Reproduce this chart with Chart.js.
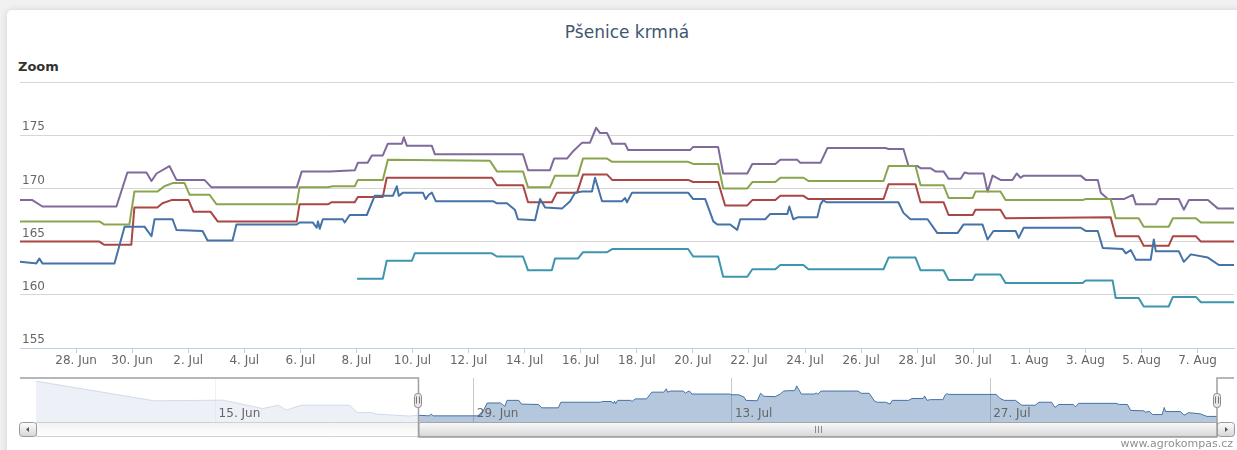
<!DOCTYPE html>
<html lang="cs">
<head>
<meta charset="utf-8">
<title>Pšenice krmná</title>
<script src="https://cdn.jsdelivr.net/npm/chart.js@4/dist/chart.umd.min.js"></script>
<style>
  html, body { margin: 0; padding: 0; }
  body {
    width: 1237px;
    height: 450px;
    overflow: hidden;
    background: #f1f1f1;
    font-family: "DejaVu Sans", sans-serif;
  }
  #card {
    position: absolute;
    left: 7px;
    top: 10px;
    width: 1240px;
    height: 470px;
    background: #fff;
    border-radius: 5px;
    box-shadow: 0 0 7px rgba(0, 0, 0, 0.13);
  }
  #mainChart, #navChart { position: absolute; left: 0; }
  #mainChart { top: 0; }
  #navChart { top: 362px; }
  .chart-title {
    position: absolute;
    left: 0;
    width: 1240px;
    top: 12px;
    line-height: 20px;
    text-align: center;
    font-size: 17px;
    color: #3e576f;
  }
  .zoom-label {
    position: absolute;
    left: 11px;
    top: 49px;
    line-height: 16px;
    font-size: 13px;
    font-weight: bold;
    color: #333;
  }
  .credits {
    position: absolute;
    right: 14px;
    top: 427px;
    line-height: 14px;
    font-size: 11px;
    color: #909090;
  }
</style>
</head>
<body>
<div id="card">
  <div class="chart-title">Pšenice krmná</div>
  <div class="zoom-label">Zoom</div>
  <canvas id="mainChart" width="1240" height="362"></canvas>
  <canvas id="navChart" width="1240" height="78"></canvas>
  <div class="credits">www.agrokompas.cz</div>
</div>
<script>
// x values are days counted from 1 Jun (1 Jun = 0, 28 Jun = 27, 1 Aug = 61)
const rangeMin = 25;
const rangeMax = 68.3;

const xTickDays = [27, 29, 31, 33, 35, 37, 39, 41, 43, 45, 47, 49, 51, 53, 55, 57, 59, 61, 63, 65, 67];
const xTickLabels = ["28. Jun", "30. Jun", "2. Jul", "4. Jul", "6. Jul", "8. Jul", "10. Jul", "12. Jul",
  "14. Jul", "16. Jul", "18. Jul", "20. Jul", "22. Jul", "24. Jul", "26. Jul", "28. Jul", "30. Jul",
  "1. Aug", "3. Aug", "5. Aug", "7. Aug"];

const navTickDays = [14, 28, 42, 56];
const navTickLabels = ["15. Jun", "29. Jun", "13. Jul", "27. Jul"];

const seriesBlue = [
  [25.0, 163.1], [25.44, 163.0], [25.58, 162.95], [25.69, 163.4], [25.8, 162.95], [28.37, 162.95],
  [28.73, 166.4], [29.44, 166.4], [29.55, 166.0], [29.69, 165.5], [29.8, 167.1], [30.44, 167.1],
  [30.58, 166.1], [31.51, 166.0], [31.69, 165.1], [32.58, 165.1], [32.72, 166.6], [34.87, 166.6],
  [34.97, 166.8], [35.44, 166.8], [35.58, 166.3], [35.63, 166.9], [35.69, 166.2], [35.8, 167.1],
  [36.51, 167.1], [36.58, 166.8], [36.76, 167.5], [37.37, 167.5], [37.65, 169.3], [38.3, 169.3],
  [38.44, 170.2], [38.51, 169.3], [38.66, 169.6], [39.37, 169.6], [39.47, 169.0], [39.58, 169.4],
  [39.69, 169.6], [39.83, 168.8], [41.87, 168.8], [42.01, 168.6], [42.37, 168.6], [42.65, 168.0],
  [42.76, 167.1], [43.37, 167.0], [43.55, 169.0], [43.73, 168.2], [44.33, 168.1], [44.62, 168.8],
  [44.8, 169.6], [45.05, 169.7], [45.4, 169.7], [45.51, 171.0], [45.76, 168.8], [46.47, 168.8],
  [46.58, 169.1], [46.65, 168.7], [46.83, 169.6], [48.83, 169.6], [49.01, 169.0], [49.44, 169.0],
  [49.73, 166.9], [49.87, 166.6], [50.33, 166.6], [50.58, 166.1], [50.69, 167.1], [51.58, 167.1],
  [51.76, 167.6], [52.37, 167.6], [52.44, 168.3], [52.58, 167.1], [52.76, 167.3], [53.44, 167.3],
  [53.55, 168.5], [53.65, 168.9], [53.76, 168.7], [56.33, 168.7], [56.51, 167.7], [56.76, 167.1],
  [57.37, 167.1], [57.72, 165.8], [58.44, 165.8], [58.65, 166.6], [59.33, 166.6], [59.51, 165.2],
  [59.72, 166.0], [60.51, 166.0], [60.62, 165.35], [60.8, 166.3], [62.83, 166.3], [63.01, 166.0],
  [63.44, 166.0], [63.62, 164.4], [64.33, 164.3], [64.44, 163.9], [64.62, 164.2], [64.8, 163.3],
  [65.33, 163.3], [65.44, 165.2], [65.51, 164.1], [66.33, 164.1], [66.51, 163.1], [66.76, 163.8],
  [67.37, 163.5], [67.76, 162.8], [68.3, 162.8]
];

const seriesRed = [
  [25.0, 165.0], [27.83, 165.0], [28.01, 164.7], [28.97, 164.7], [29.08, 168.2], [29.9, 168.2],
  [30.08, 168.6], [30.4, 168.9], [31.01, 168.9], [31.19, 167.8], [31.8, 167.8], [32.05, 166.9],
  [34.87, 166.9], [34.97, 168.5], [35.98, 168.5], [36.12, 168.7], [36.94, 168.7], [37.05, 169.2],
  [37.94, 169.2], [38.08, 171.0], [41.83, 171.0], [42.01, 170.3], [42.94, 170.3], [43.12, 168.7],
  [43.97, 168.7], [44.15, 169.6], [44.87, 169.6], [45.08, 171.3], [45.94, 171.3], [46.12, 170.8],
  [48.83, 170.8], [49.01, 170.6], [49.9, 170.6], [50.15, 168.4], [50.94, 168.4], [51.12, 168.9],
  [51.94, 168.9], [52.12, 169.3], [52.94, 169.3], [53.12, 169.0], [55.8, 169.0], [55.98, 170.4],
  [56.94, 170.4], [57.12, 168.7], [57.94, 168.7], [58.12, 167.5], [58.98, 167.5], [59.08, 168.0],
  [59.97, 168.0], [60.15, 167.2], [63.9, 167.3], [64.08, 165.5], [64.9, 165.5], [65.08, 164.6],
  [65.97, 164.6], [66.12, 165.5], [66.94, 165.5], [67.12, 165.0], [68.3, 165.0]
];

const seriesGreen = [
  [25.0, 166.9], [27.83, 166.9], [28.01, 166.6], [28.9, 166.6], [29.08, 169.7], [29.9, 169.7],
  [30.15, 170.2], [30.44, 170.5], [30.87, 170.5], [31.05, 169.4], [31.76, 169.4], [32.01, 168.5],
  [34.87, 168.5], [34.97, 170.1], [35.98, 170.1], [36.15, 170.2], [36.94, 170.2], [37.05, 170.8],
  [37.94, 170.8], [38.12, 172.7], [41.76, 172.6], [42.01, 171.6], [42.94, 171.6], [43.12, 170.1],
  [43.9, 170.1], [44.08, 171.2], [44.9, 171.2], [45.08, 172.8], [45.94, 172.8], [46.12, 172.5],
  [48.83, 172.5], [49.01, 172.3], [49.9, 172.3], [50.08, 170.0], [50.94, 170.0], [51.12, 170.6],
  [51.94, 170.6], [52.12, 171.0], [52.94, 171.0], [53.12, 170.7], [55.8, 170.7], [55.98, 172.1],
  [56.94, 172.1], [57.12, 170.3], [57.94, 170.3], [58.12, 169.1], [58.98, 169.1], [59.08, 169.7],
  [59.97, 169.7], [60.15, 168.9], [62.9, 168.9], [63.01, 169.0], [63.9, 169.0], [64.08, 167.2],
  [64.9, 167.2], [65.08, 166.4], [65.97, 166.4], [66.12, 167.2], [66.94, 167.2], [67.12, 166.8],
  [68.3, 166.8]
];

const seriesPurple = [
  [25.0, 168.9], [25.44, 168.9], [25.8, 168.3], [28.44, 168.3], [28.83, 171.5], [29.51, 171.5],
  [29.69, 170.7], [29.87, 171.4], [30.33, 172.1], [30.58, 170.8], [31.58, 170.8], [31.83, 170.1],
  [34.87, 170.1], [35.05, 171.6], [36.05, 171.6], [36.94, 171.7], [37.05, 172.4], [37.4, 172.4],
  [37.55, 173.1], [37.94, 173.1], [38.12, 174.2], [38.62, 174.2], [38.69, 174.8], [38.8, 174.0],
  [39.69, 174.0], [39.8, 173.2], [42.94, 173.2], [43.12, 171.7], [43.9, 171.7], [44.05, 172.8],
  [44.51, 172.8], [44.73, 173.5], [45.05, 174.3], [45.33, 174.3], [45.55, 175.7], [45.69, 175.2],
  [45.94, 175.2], [46.12, 174.2], [46.58, 174.2], [46.69, 173.6], [48.9, 173.6], [49.01, 173.9],
  [49.9, 173.9], [50.08, 171.4], [50.94, 171.4], [51.12, 172.3], [51.94, 172.3], [52.12, 172.7],
  [52.72, 172.7], [52.83, 172.4], [53.55, 172.4], [53.8, 173.8], [55.87, 173.8], [55.98, 173.7],
  [56.51, 173.7], [56.69, 172.1], [57.01, 172.1], [57.12, 171.9], [57.47, 171.9], [57.65, 171.6],
  [57.94, 171.6], [58.12, 170.9], [58.55, 170.9], [58.69, 171.5], [58.83, 171.4], [59.37, 171.4],
  [59.51, 169.7], [59.69, 171.2], [59.97, 170.8], [60.4, 170.8], [60.55, 171.4], [60.69, 171.0],
  [60.8, 171.2], [62.83, 171.2], [63.01, 170.8], [63.44, 170.8], [63.55, 169.6], [63.8, 169.0],
  [64.37, 169.0], [64.69, 169.4], [64.8, 168.5], [65.51, 168.5], [65.62, 169.0], [66.33, 169.0],
  [66.51, 168.0], [66.69, 168.9], [67.37, 168.9], [67.73, 168.1], [68.3, 168.1]
];

const seriesTeal = [
  [37.05, 161.5], [37.94, 161.5], [38.08, 163.2], [38.98, 163.2], [39.08, 163.9], [41.83, 163.9],
  [42.01, 163.6], [42.94, 163.6], [43.12, 162.3], [43.97, 162.3], [44.08, 163.4], [44.9, 163.4],
  [45.08, 164.0], [45.94, 164.0], [46.12, 164.3], [48.83, 164.3], [49.01, 163.6], [49.9, 163.6],
  [50.08, 161.7], [50.94, 161.7], [51.12, 162.4], [51.94, 162.4], [52.12, 162.8], [52.94, 162.8],
  [53.12, 162.4], [55.8, 162.4], [55.98, 163.5], [56.94, 163.5], [57.12, 162.3], [57.94, 162.3],
  [58.12, 161.4], [58.98, 161.4], [59.08, 161.9], [59.97, 161.9], [60.15, 161.1], [62.9, 161.1],
  [63.01, 161.35], [63.97, 161.35], [64.08, 159.7], [64.9, 159.7], [65.08, 158.9], [65.97, 158.9],
  [66.12, 159.8], [66.94, 159.8], [67.12, 159.3], [68.3, 159.3]
];

// earlier history of the first series, only visible in the navigator
const navEarly = [
  [4.26, 172.25], [10.68, 166.97], [14.37, 167.16], [15.29, 166.25], [16.54, 164.9], [17.41, 165.8],
  [17.84, 164.5], [18.65, 165.8], [21.26, 165.8], [21.69, 163.85], [22.45, 163.85], [22.72, 163.4],
  [24.51, 162.9]
];

const toPoints = (rows) => rows.map(([x, y]) => ({ x, y }));

function lineSet(label, rows, color) {
  return {
    label,
    data: toPoints(rows),
    borderColor: color,
    backgroundColor: color,
    borderWidth: 2,
    pointRadius: 0,
    borderJoinStyle: "round",
    borderCapStyle: "round",
    tension: 0
  };
}

const axisFont = { family: "DejaVu Sans", size: 12 };

const mainChart = new Chart(document.getElementById("mainChart"), {
  type: "line",
  data: {
    datasets: [
      lineSet("Řada 1", seriesBlue, "#4572a7"),
      lineSet("Řada 2", seriesRed, "#aa4643"),
      lineSet("Řada 3", seriesGreen, "#89a54e"),
      lineSet("Řada 4", seriesPurple, "#80699b"),
      lineSet("Řada 5", seriesTeal, "#3d96ae")
    ]
  },
  options: {
    responsive: false,
    animation: false,
    events: [],
    layout: { padding: { left: 13, right: 13, top: 72, bottom: 4 } },
    plugins: {
      legend: { display: false },
      tooltip: { enabled: false },
      title: { display: false }
    },
    scales: {
      x: {
        type: "linear",
        min: rangeMin,
        max: rangeMax,
        afterBuildTicks: (axis) => {
          axis.ticks = xTickDays.map((v) => ({ value: v }));
        },
        afterFit: (axis) => {
          axis.height = 20;
        },
        ticks: {
          autoSkip: false,
          maxRotation: 0,
          padding: 1,
          color: "#666",
          font: axisFont,
          callback: (value) => xTickLabels[xTickDays.indexOf(value)]
        },
        grid: {
          drawOnChartArea: false,
          drawTicks: true,
          tickLength: 5,
          color: "#c0d0e0"
        },
        border: { display: true, color: "#c0d0e0", width: 1 }
      },
      y: {
        min: 155,
        max: 180,
        afterFit: (axis) => {
          axis.width = 0;
        },
        ticks: {
          stepSize: 5,
          mirror: true,
          padding: 2,
          labelOffset: -8,
          color: "#666",
          font: axisFont,
          callback: (value) => (value === 180 ? "" : value)
        },
        grid: { color: "#d6d6d6", drawTicks: false },
        border: { display: false }
      }
    }
  }
});

function roundBox(ctx, x, y, w, h, r, fill, stroke) {
  ctx.beginPath();
  ctx.roundRect(x + 0.5, y + 0.5, w, h, r);
  ctx.fillStyle = fill;
  ctx.fill();
  ctx.strokeStyle = stroke;
  ctx.lineWidth = 1;
  ctx.stroke();
}

function vGradient(ctx, top, bottom, from, to) {
  const g = ctx.createLinearGradient(0, top, 0, bottom);
  g.addColorStop(0, from);
  g.addColorStop(1, to);
  return g;
}

const navigatorDecor = {
  id: "navigatorDecor",
  afterDraw(chart) {
    const { ctx, chartArea: area } = chart;
    const xs = chart.scales.x;
    const left = xs.getPixelForValue(rangeMin);
    const right = xs.getPixelForValue(rangeMax);
    const top = area.top;
    const bottom = area.bottom;
    const barBottom = bottom + 15;
    const outerLeft = mainChart.chartArea.left;
    const outerRight = mainChart.chartArea.right;

    ctx.save();

    // mask outside the selected range
    ctx.fillStyle = "rgba(255, 255, 255, 0.75)";
    if (left > area.left) ctx.fillRect(area.left, top, left - area.left, bottom - top);
    if (right < area.right) ctx.fillRect(right, top, area.right - right, bottom - top);

    // navigator axis labels
    ctx.font = '12px "DejaVu Sans"';
    ctx.fillStyle = "#666";
    ctx.textBaseline = "middle";
    ctx.textAlign = "left";
    navTickDays.forEach((d, i) => {
      ctx.fillText(navTickLabels[i], xs.getPixelForValue(d) + 3, bottom - 8);
    });

    // scrollbar track, thumb and buttons
    roundBox(ctx, area.left, bottom, area.right - area.left, 14, 0,
      vGradient(ctx, bottom, barBottom, "#f2f2f2", "#ffffff"), "#d0d0d0");
    roundBox(ctx, left, bottom, right - left, 14, 2,
      vGradient(ctx, bottom, barBottom, "#fbfbfb", "#d6d6d6"), "#a6a6a6");
    const mid = (left + right) / 2;
    ctx.strokeStyle = "#8a8a8a";
    ctx.lineWidth = 1;
    ctx.beginPath();
    [-3, 0, 3].forEach((dx) => {
      ctx.moveTo(Math.round(mid + dx) + 0.5, bottom + 4);
      ctx.lineTo(Math.round(mid + dx) + 0.5, bottom + 11);
    });
    ctx.stroke();

    const btnW = 17;
    roundBox(ctx, area.left - btnW, bottom, btnW, 14, 3,
      vGradient(ctx, bottom, barBottom, "#ffffff", "#d4d4d4"), "#9a9a9a");
    roundBox(ctx, area.right, bottom, btnW, 14, 3,
      vGradient(ctx, bottom, barBottom, "#ffffff", "#d4d4d4"), "#9a9a9a");
    ctx.fillStyle = "#555";
    const cy = bottom + 7.5;
    const lx = area.left - btnW / 2;
    ctx.beginPath();
    ctx.moveTo(lx - 1.5, cy);
    ctx.lineTo(lx + 1.5, cy - 2.5);
    ctx.lineTo(lx + 1.5, cy + 2.5);
    ctx.closePath();
    ctx.fill();
    const rx = area.right + btnW / 2 + 1;
    ctx.beginPath();
    ctx.moveTo(rx + 1.5, cy);
    ctx.lineTo(rx - 1.5, cy - 2.5);
    ctx.lineTo(rx - 1.5, cy + 2.5);
    ctx.closePath();
    ctx.fill();

    // outline around the selected range
    ctx.strokeStyle = "#a0a0a0";
    ctx.lineWidth = 1.5;
    ctx.beginPath();
    ctx.moveTo(outerLeft, top);
    ctx.lineTo(left, top);
    ctx.lineTo(left, barBottom);
    ctx.lineTo(right, barBottom);
    ctx.lineTo(right, top);
    ctx.lineTo(outerRight, top);
    ctx.stroke();

    // handles
    const hy = (top + bottom) / 2;
    [left, right].forEach((hx) => {
      roundBox(ctx, Math.round(hx) - 4, Math.round(hy - 7.5), 7, 14, 3, "#ebe7e8", "#8a8a8a");
      ctx.strokeStyle = "#777";
      ctx.lineWidth = 1;
      ctx.beginPath();
      ctx.moveTo(Math.round(hx) - 1.5, hy - 3.5);
      ctx.lineTo(Math.round(hx) - 1.5, hy + 3.5);
      ctx.moveTo(Math.round(hx) + 1.5, hy - 3.5);
      ctx.lineTo(Math.round(hx) + 1.5, hy + 3.5);
      ctx.stroke();
    });

    ctx.restore();
  }
};

const navData = toPoints(navEarly.concat(seriesBlue));

new Chart(document.getElementById("navChart"), {
  type: "line",
  data: {
    datasets: [{
      label: "Navigator",
      data: navData,
      borderColor: "#4572a7",
      borderWidth: 1,
      backgroundColor: "rgba(69, 114, 167, 0.4)",
      fill: "start",
      pointRadius: 0,
      tension: 0
    }]
  },
  options: {
    responsive: false,
    animation: false,
    events: [],
    layout: { padding: { left: 29, right: 30, top: 6, bottom: 28 } },
    plugins: {
      legend: { display: false },
      tooltip: { enabled: false }
    },
    scales: {
      x: {
        type: "linear",
        min: navEarly[0][0],
        max: rangeMax,
        afterBuildTicks: (axis) => {
          axis.ticks = navTickDays.map((v) => ({ value: v }));
        },
        afterFit: (axis) => {
          axis.height = 0;
        },
        ticks: { display: false },
        grid: { color: "#c8c8c8", drawTicks: false },
        border: { display: false }
      },
      y: {
        display: false,
        min: 161.3,
        max: 173.1
      }
    }
  },
  plugins: [navigatorDecor]
});
</script>
</body>
</html>
